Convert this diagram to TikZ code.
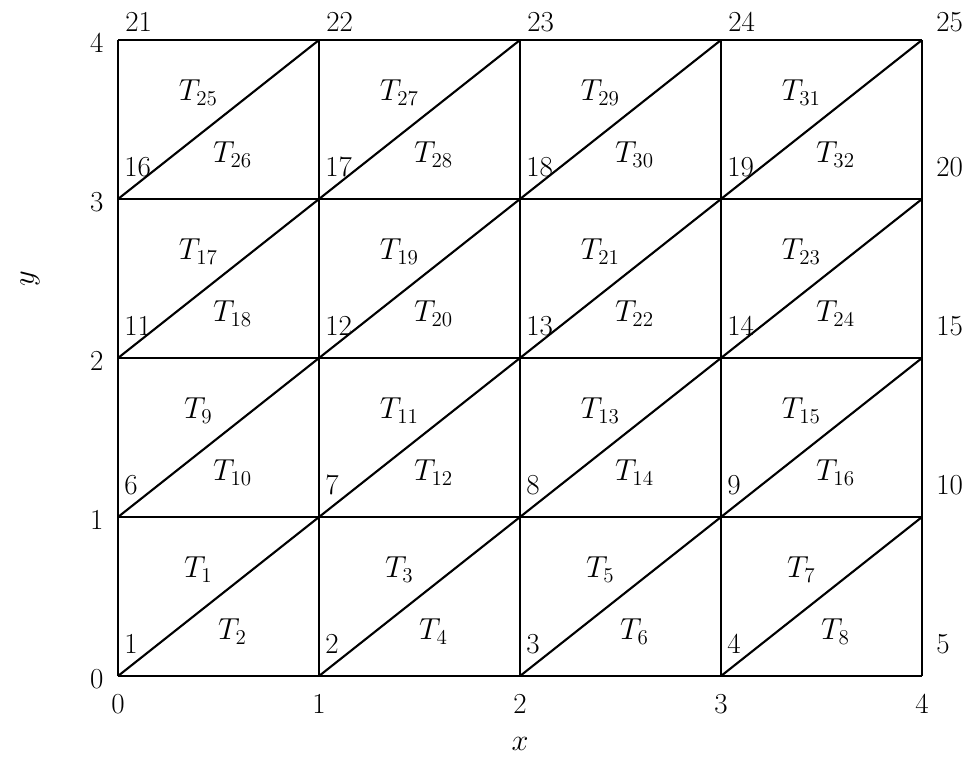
\documentclass[tikz,border=0pt]{standalone}
\usepackage{amsmath}
\usepackage{tikz}
\usetikzlibrary{positioning}

\tikzset{
    mesh/.style={line width=1.2pt, black},
    vnum/.style={anchor=west, inner sep=0pt},
    tri/.style={inner sep=0pt},
    tick/.style={inner sep=0pt}
}

\begin{document}
\begin{tikzpicture}[x=4.02cm, y=3.18cm, font=\fontsize{16.5}{19}\selectfont]
    \useasboundingbox (-0.587,-0.509) rectangle (4.234,4.252);
    % Grid and diagonals
    \foreach \i in {0,...,4} {
        \draw[mesh] (\i,0) -- (\i,4);
        \draw[mesh] (0,\i) -- (4,\i);
    }
    \foreach \i in {0,...,3} {
        \foreach \r in {0,...,3} {
            \draw[mesh] (\i,\r) -- (\i+1,\r+1);
        }
    }
    % Triangle labels
    \foreach \i in {0,...,3} {
        \foreach \r in {0,...,3} {
            \pgfmathtruncatemacro{\ta}{8*\r+2*\i+1}
            \pgfmathtruncatemacro{\tb}{8*\r+2*\i+2}
            \node[tri] (t\ta) at (\i+0.4,\r+0.67) {$T_{\ta}$};
            \node[tri] (t\tb) at (\i+0.57,\r+0.28) {$T_{\tb}$};
        }
    }
    % Vertex numbers
    \foreach \r in {0,...,3} {
        \foreach \i in {0,...,3} {
            \pgfmathtruncatemacro{\k}{5*\r+\i+1}
            \node[vnum] (v\k) at (\i+0.03,\r+0.2) {\k};
        }
        \pgfmathtruncatemacro{\k}{5*\r+5}
        \node[vnum] (v\k) at (4.07,\r+0.2) {\k};
    }
    \foreach \i in {0,...,3} {
        \pgfmathtruncatemacro{\k}{21+\i}
        \node[vnum] (v\k) at (\i+0.035,4.113) {\k};
    }
    \node[vnum] (v25) at (4.07,4.113) {25};
    % Axes
    \foreach \i in {0,...,4} {
        \node[tick] (xt\i) at (\i,-0.176) {\i};
        \node[tick] (yt\i) at (-0.105,\i-0.02) {\i};
    }
    \node (xlab) at (2,-0.43) {$x$};
    \node[rotate=90] (ylab) at (-0.438,2.5) {$y$};
\end{tikzpicture}
\end{document}
